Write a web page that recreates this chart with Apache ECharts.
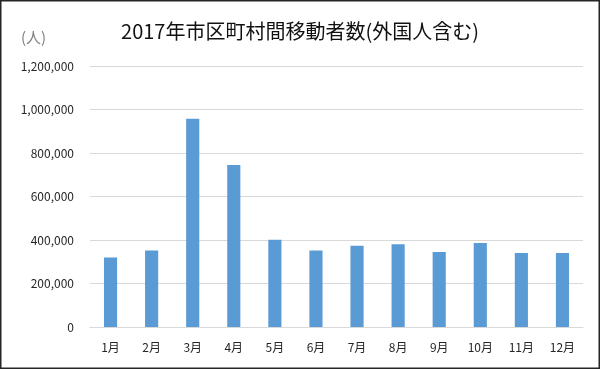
<!DOCTYPE html>
<html>
<head>
<meta charset="utf-8">
<script src="https://cdn.jsdelivr.net/npm/echarts@6/dist/echarts.min.js"></script>
<style>
html,body{margin:0;padding:0;background:#fff;}
#chart{width:600px;height:369px;}
</style>
</head>
<body>
<div id="chart"></div>
<script>
var titleText = '2017年市区町村間移動者数(外国人含む)';
var unitLabel = '(人)';
var months = ['1月','2月','3月','4月','5月','6月','7月','8月','9月','10月','11月','12月'];
var movers = [319000, 352000, 958000, 745000, 401000, 352000, 374000, 381000, 345000, 386000, 340000, 340000];

var chart = echarts.init(document.getElementById('chart'), null, {renderer: 'canvas'});
var font = '"Noto Sans CJK JP", "Noto Sans", sans-serif';
chart.setOption({
  animation: false,
  backgroundColor: '#ffffff',
  title: {
    text: titleText,
    left: 'center',
    top: 16,
    textStyle: {fontFamily: font, fontSize: 20, fontWeight: 'normal', color: '#111111'}
  },
  graphic: [
    {type: 'text', left: 21, top: 30, style: {text: unitLabel, font: '15px ' + font, fill: '#808080'}},
    {type: 'rect', shape: {x: 0.5, y: 0.5, width: 599, height: 368}, style: {fill: 'none', stroke: '#262626', lineWidth: 2}, silent: true}
  ],
  grid: {left: 90, right: 17, top: 66, bottom: 42, containLabel: false},
  xAxis: {
    type: 'category',
    data: months,
    axisLine: {show: true, lineStyle: {color: '#d9d9d9', width: 1}},
    axisTick: {show: false},
    axisLabel: {fontFamily: font, fontSize: 12, color: '#262626', margin: 14}
  },
  yAxis: {
    type: 'value',
    min: 0,
    max: 1200000,
    interval: 200000,
    axisLine: {show: false},
    axisTick: {show: false},
    splitLine: {lineStyle: {color: '#d9d9d9', width: 1}},
    axisLabel: {
      fontFamily: font, fontSize: 12, color: '#262626', margin: 16,
      formatter: function (v) { return v.toLocaleString('en-US'); }
    }
  },
  series: [{
    type: 'bar',
    data: movers,
    barWidth: '32%',
    itemStyle: {color: '#5b9bd5'}
  }]
});
</script>
</body>
</html>
